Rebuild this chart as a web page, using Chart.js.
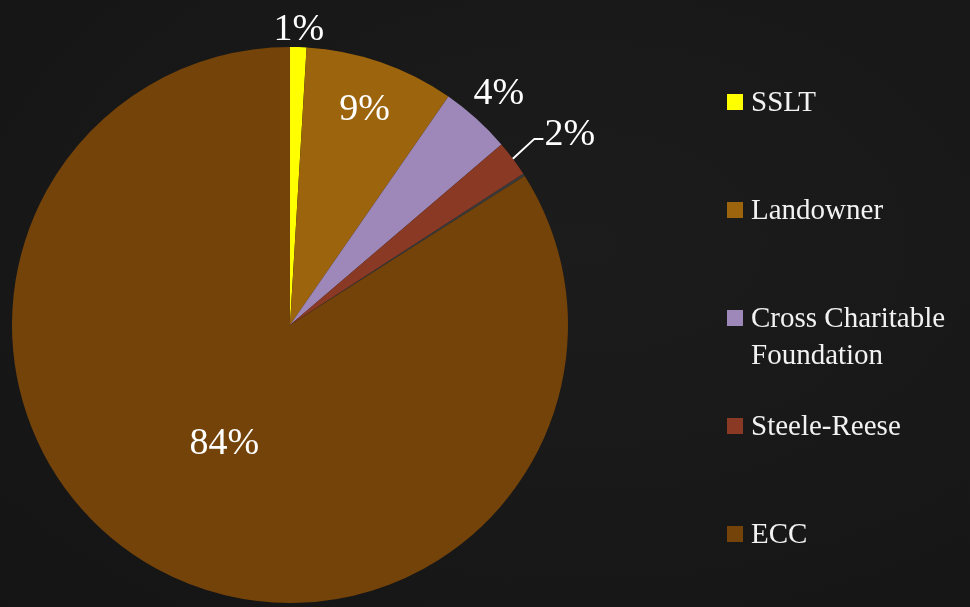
<!DOCTYPE html>
<html>
<head>
<meta charset="utf-8">
<script src="https://cdn.jsdelivr.net/npm/chart.js@4"></script>
<style>
    body{margin:0;background:#181818;}
    #caja{position:relative;width:970px;height:607px;background:radial-gradient(ellipse at 60% 40%,#1c1c1c 0%,#171717 70%,#141414 100%);}
    #leyenda{position:absolute;left:727px;top:0;font-family:"Liberation Serif",serif;color:#f2f2f2;font-size:29px;}
    .item{position:absolute;left:0;display:flex;align-items:flex-start;white-space:nowrap;line-height:37px;}
    .cuadro{width:16px;height:16px;margin-right:8px;margin-top:11px;flex:none;}
</style>
</head>
<body>
<div id="caja">
    <canvas id="myChart" width="970" height="607"></canvas>
    <div id="leyenda"></div>
</div>
<script>
// datos de la torta
let categorias = ['SSLT', 'Landowner', 'Cross Charitable\nFoundation', 'Steele-Reese', '', 'ECC']
let valores = [0.95, 8.7, 4.1, 2.1, 0.15, 84.0]
let etiquetas = ['1%', '9%', '4%', '2%', '', '84%']
let colores = ['#ffff00', '#9c640c', '#9d88b9', '#8a3a24', '#3a3a3a', '#74430a']
let legendaY = [102, 210, 318, 426, 0, 534]

// posicion de cada etiqueta: fraccion del radio
let radioEtiqueta = [1.06, 0.82, 1.12, 1.0, 0, 0.49]

/*
    Funcion: dibujar etiquetas de porcentaje y la linea guia del 2%
*/
let pluginEtiquetas = {
    id: 'etiquetas',
    afterDatasetsDraw(chart){
        let ctx = chart.ctx
        let arcos = chart.getDatasetMeta(0).data
        ctx.save()
        ctx.fillStyle = '#ffffff'
        ctx.strokeStyle = '#ffffff'
        ctx.font = '38px "Liberation Serif", serif'
        ctx.textBaseline = 'middle'
        arcos.forEach((arco, i) => {
            if (etiquetas[i] == '') return
            let p = arco.getProps(['x', 'y', 'startAngle', 'endAngle', 'outerRadius'], true)
            let medio = (p.startAngle + p.endAngle) / 2
            if (i == 3){
                // linea guia
                let x0 = p.x + Math.cos(medio) * p.outerRadius
                let y0 = p.y + Math.sin(medio) * p.outerRadius
                let x1 = p.x + Math.cos(medio - 0.01) * p.outerRadius * 1.105
                let y1 = p.y + Math.sin(medio - 0.01) * p.outerRadius * 1.105
                ctx.lineWidth = 2
                ctx.beginPath()
                ctx.moveTo(x0, y0)
                ctx.lineTo(x1, y1)
                ctx.lineTo(x1 + 9, y1)
                ctx.stroke()
                ctx.textAlign = 'left'
                ctx.fillText(etiquetas[i], x1 + 10, y1 - 4)
                return
            }
            let r = p.outerRadius * radioEtiqueta[i]
            ctx.textAlign = 'center'
            ctx.fillText(etiquetas[i], p.x + Math.cos(medio) * r, p.y + Math.sin(medio) * r)
        })
        ctx.restore()
    }
}

function generarGrafico(){
    let grafico = document.getElementById('myChart')
    new Chart(grafico, {
        type: 'pie',
        data: {
            labels: categorias,
            datasets: [{
                data: valores,
                backgroundColor: colores,
                borderWidth: 0
            }]
        },
        options: {
            responsive: false,
            animation: false,
            layout: { padding: { left: 12, right: 402, top: 47, bottom: 4 } },
            plugins: {
                legend: { display: false },
                tooltip: { enabled: false }
            }
        },
        plugins: [pluginEtiquetas]
    })
}

function generarLeyenda(){
    let leyenda = document.getElementById('leyenda')
    categorias.forEach((cat, i) => {
        if (cat == '') return
        let item = document.createElement('div')
        item.className = 'item'
        item.style.top = (legendaY[i] - 19) + 'px'
        let cuadro = document.createElement('div')
        cuadro.className = 'cuadro'
        cuadro.style.background = colores[i]
        let texto = document.createElement('div')
        texto.innerHTML = cat.replace('\n', '<br>')
        item.appendChild(cuadro)
        item.appendChild(texto)
        leyenda.appendChild(item)
    })
}

generarGrafico()
generarLeyenda()
</script>
</body>
</html>
